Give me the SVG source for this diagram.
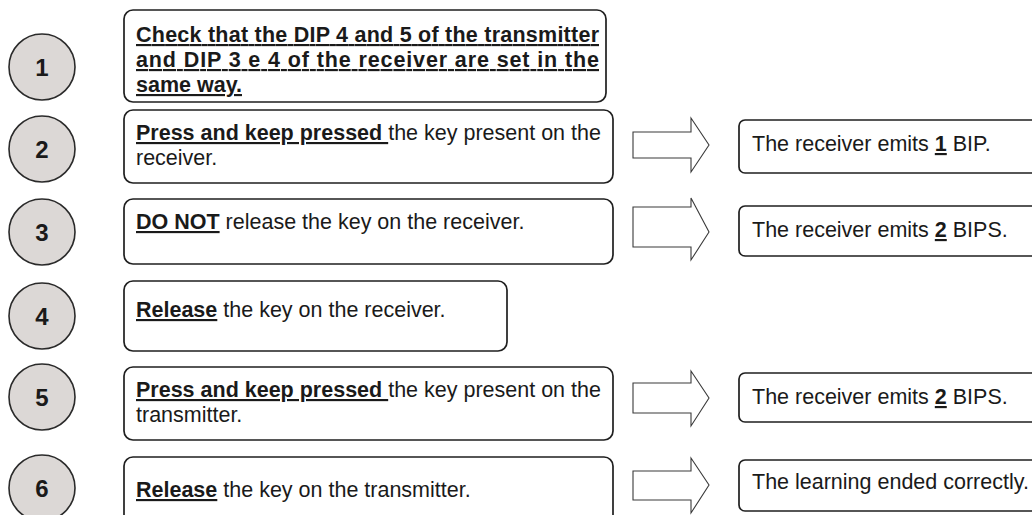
<svg xmlns="http://www.w3.org/2000/svg" width="1032" height="515" viewBox="0 0 1032 515">
  <style>
    text { font-family: "Liberation Sans", Arial, sans-serif; font-size: 21.5px; fill: #1a1a1a; }
    .num { font-size: 24px; font-weight: bold; text-anchor: middle; }
    .b { font-weight: bold; }
    .u { text-decoration: underline; }
    .step { fill: #dcd8d6; stroke: #2a2a2a; stroke-width: 1.6; }
    .box { fill: #ffffff; stroke: #1f1f1f; stroke-width: 1.7; }
    .arrow { fill: #ffffff; stroke: #3a3a3a; stroke-width: 1.1; stroke-linejoin: miter; }
  </style>

  <rect width="1032" height="515" fill="#ffffff"/>

  <!-- step 1 -->
  <g id="step1">
    <ellipse class="step" cx="42" cy="67" rx="33" ry="33"/>
    <text class="num" x="42" y="76">1</text>
    <rect class="box" x="124" y="10" width="482" height="92" rx="9"/>
    <text class="b u" x="136" y="42" textLength="463" lengthAdjust="spacing">Check that the DIP 4 and 5 of the transmitter</text>
    <text class="b u" x="136" y="67" textLength="463" lengthAdjust="spacing">and DIP 3 e 4 of the receiver are set in the</text>
    <text class="b u" x="136" y="92">same way.</text>
  </g>

  <!-- step 2 -->
  <g id="step2">
    <ellipse class="step" cx="42" cy="149" rx="33" ry="33"/>
    <text class="num" x="42" y="158">2</text>
    <rect class="box" x="124" y="110" width="489" height="73" rx="9"/>
    <text x="136" y="140" xml:space="preserve"><tspan class="b u">Press and keep pressed </tspan>the key present on the</text>
    <text x="136" y="165">receiver.</text>
  </g>

  <!-- step 3 -->
  <g id="step3">
    <ellipse class="step" cx="42" cy="232" rx="33" ry="33"/>
    <text class="num" x="42" y="241">3</text>
    <rect class="box" x="124" y="199" width="489" height="65" rx="9"/>
    <text x="136" y="229"><tspan class="b u">DO NOT</tspan> release the key on the receiver.</text>
  </g>

  <!-- step 4 -->
  <g id="step4">
    <ellipse class="step" cx="42" cy="316" rx="33" ry="33"/>
    <text class="num" x="42" y="325">4</text>
    <rect class="box" x="124" y="281" width="383" height="70" rx="9"/>
    <text x="136" y="317"><tspan class="b u">Release</tspan> the key on the receiver.</text>
  </g>

  <!-- step 5 -->
  <g id="step5">
    <ellipse class="step" cx="42" cy="397" rx="33" ry="33"/>
    <text class="num" x="42" y="406">5</text>
    <rect class="box" x="124" y="367" width="489" height="73" rx="9"/>
    <text x="136" y="397" xml:space="preserve"><tspan class="b u">Press and keep pressed </tspan>the key present on the</text>
    <text x="136" y="422">transmitter.</text>
  </g>

  <!-- step 6 -->
  <g id="step6">
    <ellipse class="step" cx="42" cy="488" rx="33" ry="33"/>
    <text class="num" x="42" y="497">6</text>
    <rect class="box" x="124" y="457" width="489" height="80" rx="9"/>
    <text x="136" y="497"><tspan class="b u">Release</tspan> the key on the transmitter.</text>
  </g>

  <!-- result boxes -->
  <g id="result2">
    <rect class="box" x="739" y="120" width="320" height="53" rx="6"/>
    <text x="752" y="151">The receiver emits <tspan class="b u">1</tspan> BIP.</text>
  </g>
  <g id="result3">
    <rect class="box" x="739" y="206" width="320" height="50" rx="6"/>
    <text x="752" y="237">The receiver emits <tspan class="b u">2</tspan> BIPS.</text>
  </g>
  <g id="result5">
    <rect class="box" x="739" y="373" width="320" height="49" rx="6"/>
    <text x="752" y="404">The receiver emits <tspan class="b u">2</tspan> BIPS.</text>
  </g>
  <g id="result6">
    <rect class="box" x="739" y="460" width="320" height="51" rx="6"/>
    <text x="752" y="489">The learning ended correctly.</text>
  </g>

  <!-- block arrows linking each step to its result -->
  <g id="connectors">
    <polygon class="arrow" points="633,132 691,132 691,118 709,145 691,172 691,158 633,158"/>
    <polygon class="arrow" points="633,207 691,207 691,198 709,232 691,260 691,247 633,247"/>
    <polygon class="arrow" points="633,383 691,383 691,371 709,398 691,426 691,413 633,413"/>
    <polygon class="arrow" points="633,471 691,471 691,458 709,485 691,513 691,500 633,500"/>
  </g>
</svg>
